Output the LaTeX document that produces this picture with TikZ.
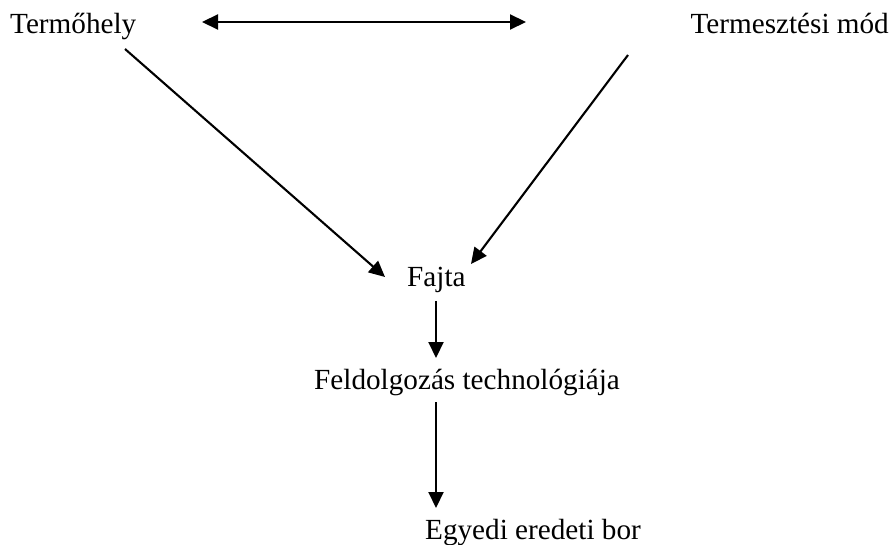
\documentclass[tikz,border=0pt]{standalone}
\usepackage{fontspec}
\setmainfont{Liberation Serif}
\usetikzlibrary{arrows.meta}
\begin{document}
\begin{tikzpicture}[x=1pt,y=-1pt,
  lbl/.style={inner sep=0pt,font=\fontsize{29.2}{32}\selectfont},
  arr/.style={line width=2.1pt,-{Triangle[length=16pt,width=15pt]}},
  darr/.style={line width=2.1pt,{Triangle[length=16pt,width=15pt]}-{Triangle[length=16pt,width=15pt]}}]
\useasboundingbox (0,0) rectangle (894,545);
\node[lbl,anchor=base west] (T) at (10,34) {Termőhely};
\node[lbl,anchor=base east] (M) at (889,34) {Termesztési mód};
\node[lbl,anchor=base west] (F) at (407,287) {Fajta};
\node[lbl,anchor=base west] (D) at (314,389) {Feldolgozás technológiája};
\node[lbl,anchor=base west] (E) at (425,539) {Egyedi eredeti bor};
\draw[darr] ([xshift=192pt,yshift=12pt]T.base west) -- ([xshift=-363pt,yshift=12pt]M.base east);
\draw[arr] ([xshift=115pt,yshift=-15pt]T.base west) -- ([xshift=-22pt,yshift=10pt]F.base west);
\draw[arr] ([xshift=-261pt,yshift=-21pt]M.base east) -- ([xshift=64pt,yshift=23pt]F.base west);
\draw[arr] ([xshift=29pt,yshift=-14pt]F.base west) -- ([xshift=122pt,yshift=31pt]D.base west);
\draw[arr] ([xshift=122pt,yshift=-13pt]D.base west) -- ([xshift=11pt,yshift=31pt]E.base west);
\end{tikzpicture}
\end{document}
